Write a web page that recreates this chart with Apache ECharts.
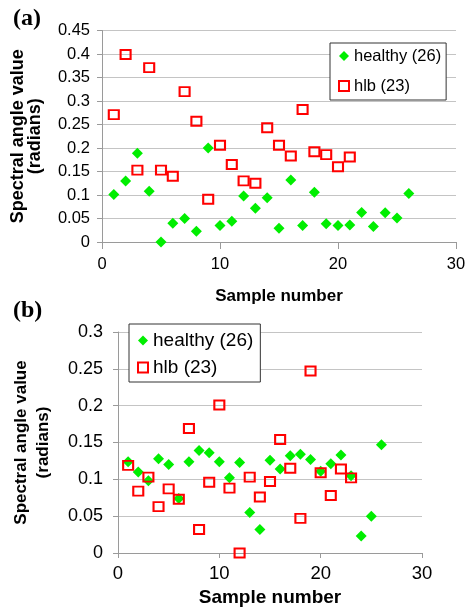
<!DOCTYPE html>
<html><head><meta charset="utf-8">
<script src="https://cdn.jsdelivr.net/npm/echarts@6/dist/echarts.min.js"></script>
<style>html,body{margin:0;padding:0;background:#fff}#c{width:472px;height:609px}</style>
</head><body><div id="c"></div>
<script>
// ---- data ----
const healthyA = [0.101, 0.130, 0.189, 0.108, 0.000, 0.040, 0.050, 0.023, 0.200, 0.035, 0.044, 0.098, 0.072, 0.094, 0.029, 0.132, 0.035, 0.106, 0.039, 0.035, 0.036, 0.063, 0.033, 0.062, 0.051, 0.103];
const hlbA = [0.271, 0.399, 0.153, 0.371, 0.153, 0.140, 0.320, 0.257, 0.091, 0.206, 0.165, 0.130, 0.125, 0.243, 0.206, 0.183, 0.282, 0.192, 0.186, 0.160, 0.181];
const healthyB = [0.124, 0.110, 0.098, 0.128, 0.120, 0.074, 0.124, 0.139, 0.136, 0.124, 0.102, 0.123, 0.055, 0.032, 0.126, 0.114, 0.132, 0.134, 0.127, 0.111, 0.121, 0.133, 0.105, 0.023, 0.050, 0.147];
const hlbB = [0.119, 0.084, 0.103, 0.063, 0.087, 0.073, 0.169, 0.032, 0.096, 0.201, 0.088, 0.000, 0.103, 0.076, 0.097, 0.154, 0.115, 0.047, 0.247, 0.109, 0.078, 0.114, 0.102];
const seriesNames = ['healthy (26)', 'hlb (23)'];
const panelLabels = ['(a)', '(b)'];
const xAxisTitle = 'Sample number';
const yAxisTitle = 'Spectral angle value\n(radians)';
const yMaxA = 0.45, yMaxB = 0.3, yStep = 0.05, xMin = 0, xMax = 30, xStep = 10;

// ---- chart ----
const FONT = '"Liberation Sans", Arial, sans-serif';
const GREEN = '#00ee00', RED = '#ff0000';
const toPts = arr => arr.map((v, i) => [i + 1, v]);

function xAx(gi, fs, margin, nfs, gap, tickLen) {
  return {
    gridIndex: gi, type: 'value', min: xMin, max: xMax, interval: xStep,
    name: xAxisTitle, nameLocation: 'middle', nameGap: gap,
    nameTextStyle: { fontFamily: FONT, fontSize: nfs, fontWeight: 'bold', color: '#000' },
    axisLine: { show: true, lineStyle: { color: '#9a9a9a', width: 1 } },
    axisTick: { show: true, length: tickLen, lineStyle: { color: '#9a9a9a' } },
    axisLabel: { fontFamily: FONT, fontSize: fs, color: '#000', margin: margin },
    splitLine: { show: false }
  };
}
function yAx(gi, max, fs, margin, nfs, gap, lh) {
  return {
    gridIndex: gi, type: 'value', min: 0, max: max, interval: yStep,
    name: yAxisTitle, nameLocation: 'middle', nameGap: gap, nameRotate: 90,
    nameTextStyle: { fontFamily: FONT, fontSize: nfs, fontWeight: 'bold', color: '#000', lineHeight: lh, align: 'center' },
    axisLine: { show: true, lineStyle: { color: '#9a9a9a', width: 1 } },
    axisTick: { show: true, length: 5, lineStyle: { color: '#9a9a9a' } },
    axisLabel: { fontFamily: FONT, fontSize: fs, color: '#000', margin: margin },
    splitLine: { show: true, lineStyle: { color: '#c4c4c4', width: 1 } }
  };
}
function legend(left, top, fs, lh, gap, pad) {
  return {
    orient: 'vertical', left: left, top: top, padding: pad, itemGap: gap,
    itemWidth: 10, itemHeight: 10,
    backgroundColor: '#fff', borderColor: '#333', borderWidth: 1,
    textStyle: { fontFamily: FONT, fontSize: fs, color: '#000', lineHeight: lh },
    data: [
      { name: seriesNames[0], icon: 'diamond', itemStyle: { color: GREEN, borderWidth: 0 } },
      { name: seriesNames[1], icon: 'rect', itemStyle: { color: '#fff', borderColor: RED, borderWidth: 2 } }
    ]
  };
}
function healthy(gi, data) {
  return { name: seriesNames[0], type: 'scatter', xAxisIndex: gi, yAxisIndex: gi,
    symbol: 'diamond', symbolSize: 11, data: toPts(data),
    itemStyle: { color: GREEN, opacity: 1 }, emphasis: { disabled: true } };
}
function hlb(gi, data) {
  return { name: seriesNames[1], type: 'scatter', xAxisIndex: gi, yAxisIndex: gi,
    symbol: 'rect', symbolSize: [10, 9], data: toPts(data),
    itemStyle: { color: 'rgba(255,255,255,0)', borderColor: RED, borderWidth: 2, opacity: 1 },
    emphasis: { disabled: true } };
}

const chart = echarts.init(document.getElementById('c'), null, { renderer: 'canvas' });
chart.setOption({
  animation: false,
  backgroundColor: '#fff',
  title: [
    { text: panelLabels[0], left: 13, top: 7, padding: 0,
      textStyle: { fontFamily: '"Liberation Serif", "Times New Roman", serif', fontWeight: 'bold', fontSize: 24, color: '#000' } },
    { text: panelLabels[1], left: 13, top: 299, padding: 0,
      textStyle: { fontFamily: '"Liberation Serif", "Times New Roman", serif', fontWeight: 'bold', fontSize: 24, color: '#000' } }
  ],
  legend: [
    legend(330, 43, 16.5, 20, 10, [3, 5, 4, 8]),
    legend(129, 324, 19, 19, 8, [7, 7, 5, 8])
  ],
  grid: [
    { left: 102, right: 16, top: 30.5, bottom: 367, containLabel: false },
    { left: 118, right: 50, top: 332, bottom: 56, containLabel: false }
  ],
  xAxis: [ xAx(0, 16.5, 14, 17, 46, 7), xAx(1, 18.5, 11, 19, 35, 5) ],
  yAxis: [ yAx(0, yMaxA, 16.5, 12, 18, 58, 17), yAx(1, yMaxB, 18, 15, 17, 64, 22) ],
  series: [ healthy(0, healthyA), hlb(0, hlbA), healthy(1, healthyB), hlb(1, hlbB) ]
});
</script>
</body></html>
